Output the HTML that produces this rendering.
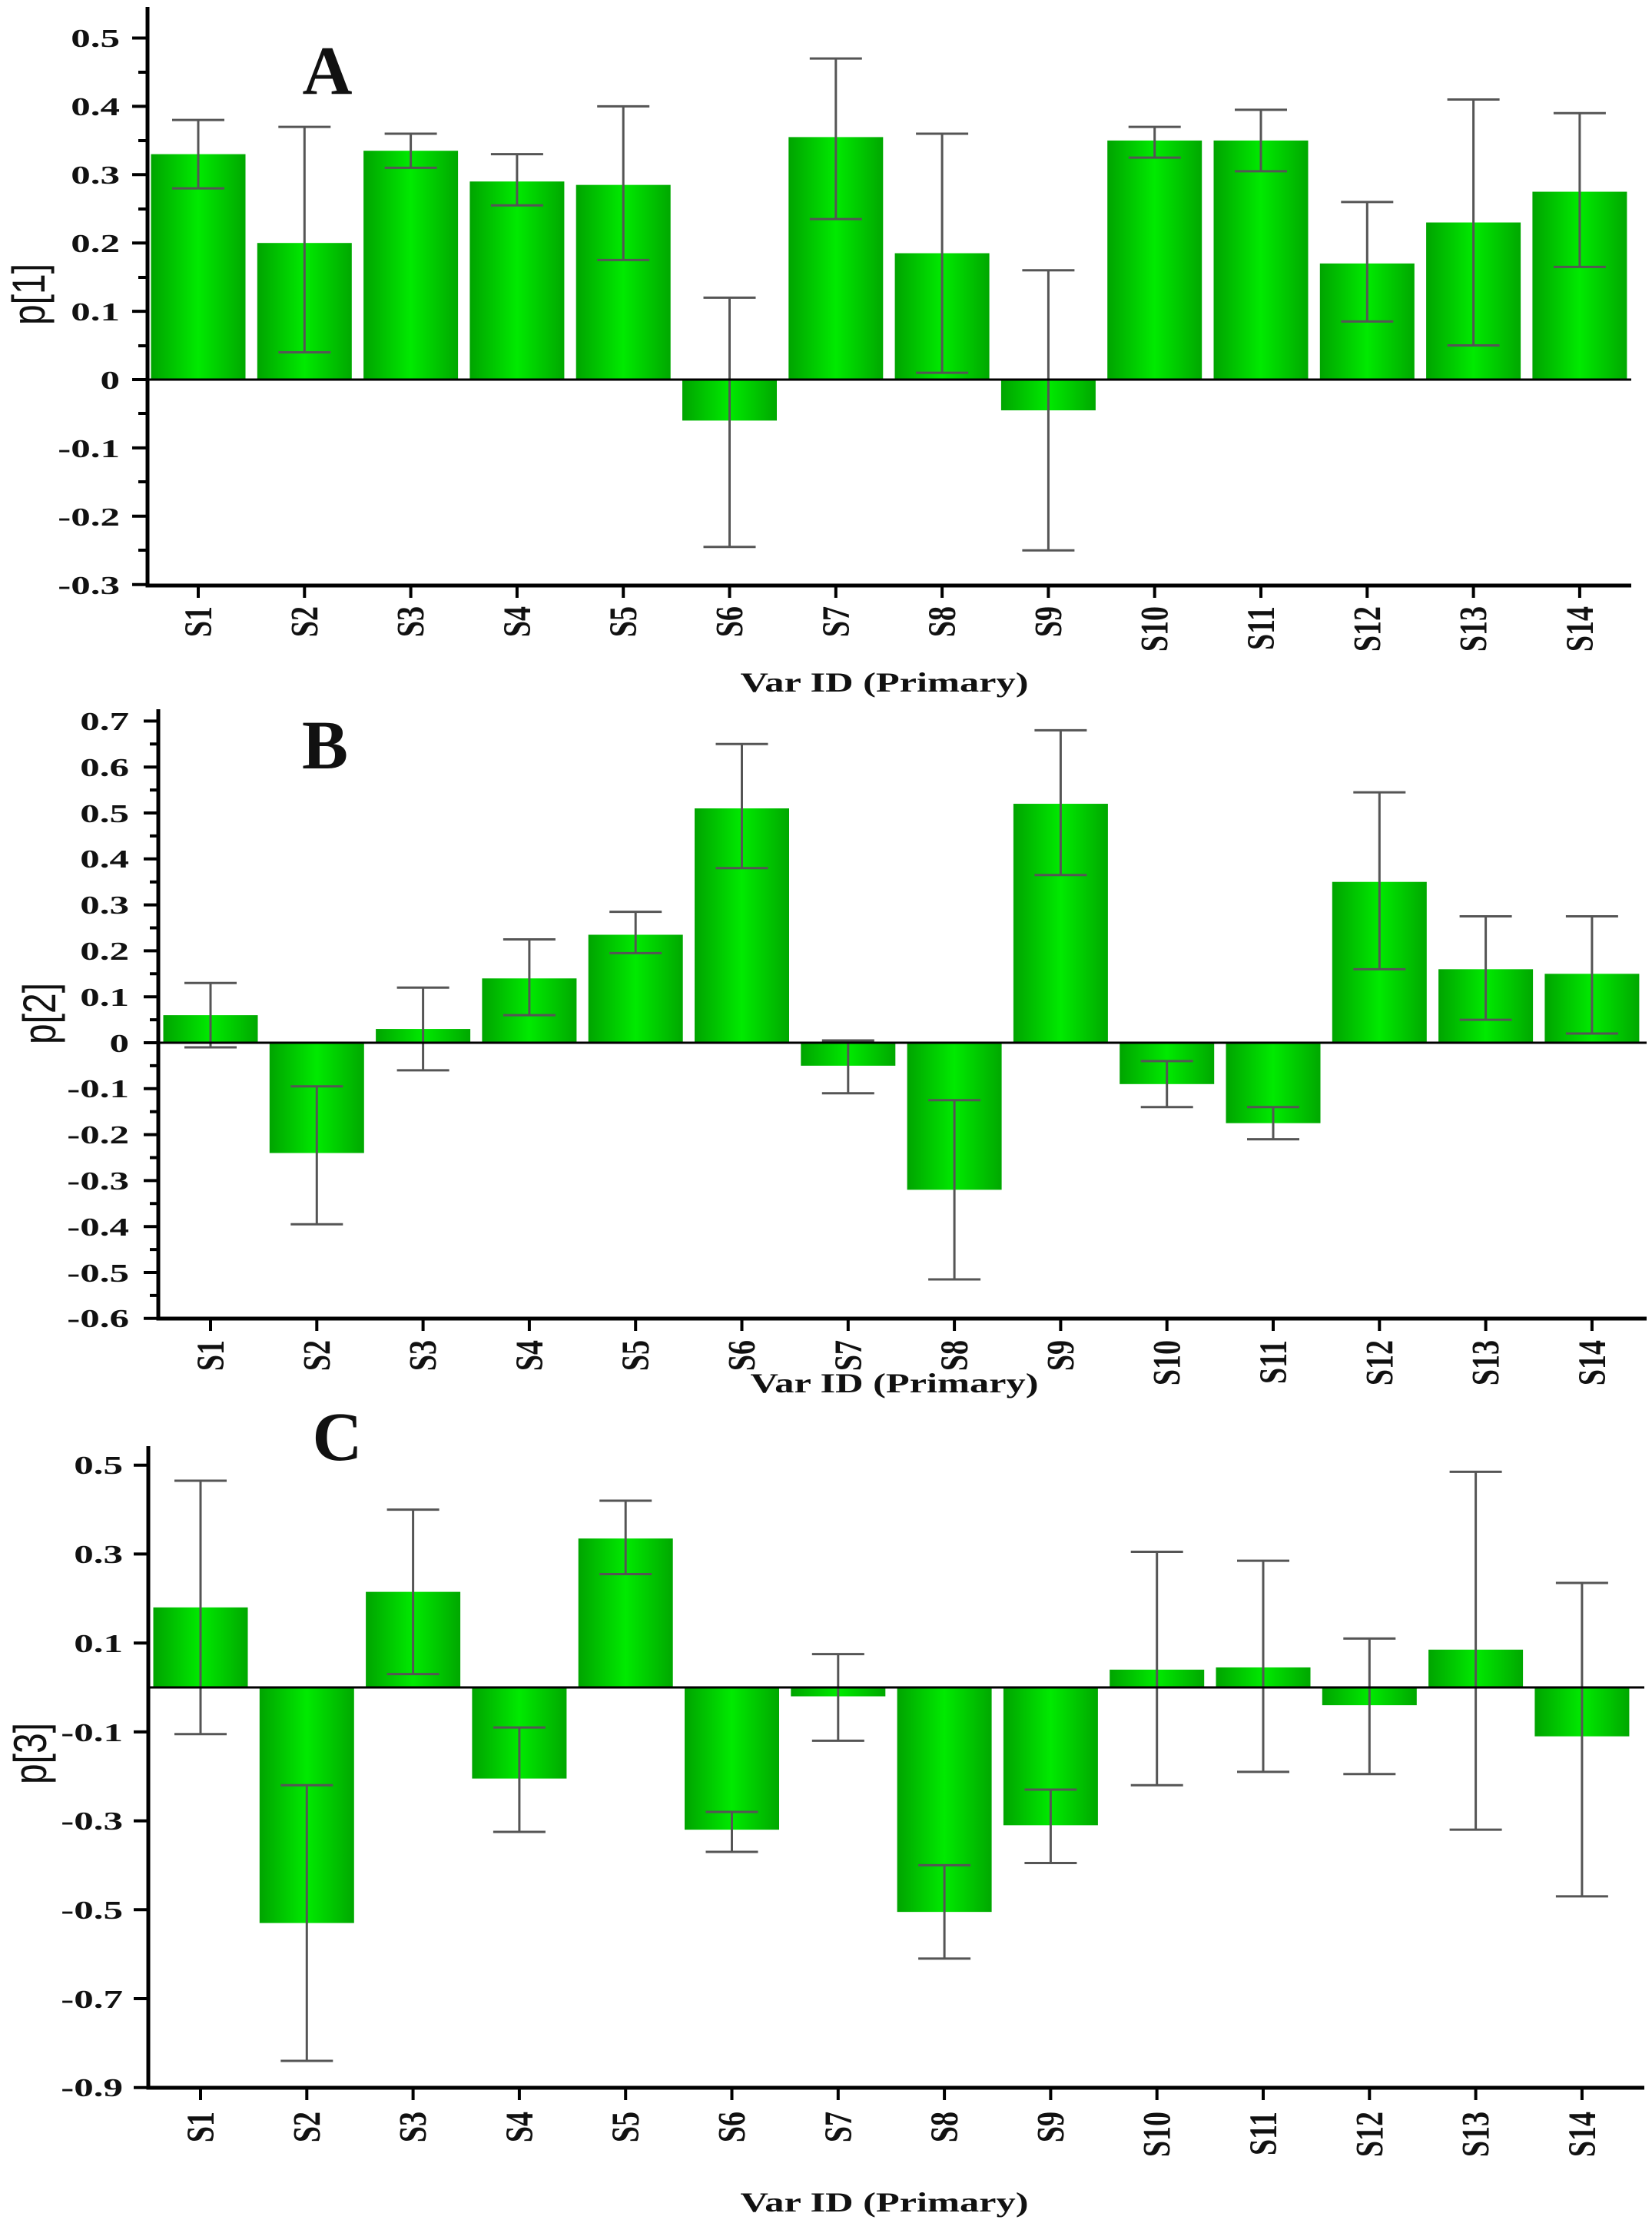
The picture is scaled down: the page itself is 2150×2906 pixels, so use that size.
<!DOCTYPE html>
<html><head><meta charset="utf-8"><style>
html,body{margin:0;padding:0;background:#fff}
svg{display:block}
.t{font-family:"Liberation Serif","Times New Roman",serif;font-weight:bold;fill:#111}
.s{font-family:"Liberation Sans",sans-serif;fill:#111}
</style></head><body>
<svg width="2150" height="2906" viewBox="0 0 2150 2906" xmlns="http://www.w3.org/2000/svg">
<defs>
<linearGradient id="g" x1="0" y1="0" x2="1" y2="0">
<stop offset="0" stop-color="#00a400"/><stop offset="0.5" stop-color="#00ea00"/><stop offset="1" stop-color="#00a800"/>
</linearGradient>
</defs>
<rect width="2150" height="2906" fill="#fff"/>

<!-- ================= PANEL A ================= -->
<g transform="translate(258,494) scale(1,-8.89)" fill="url(#g)">
<rect x="-61.5" y="0" width="123" height="33"/>
<rect x="76.8" y="0" width="123" height="20"/>
<rect x="215.1" y="0" width="123" height="33.5"/>
<rect x="353.4" y="0" width="123" height="29"/>
<rect x="491.7" y="0" width="123" height="28.5"/>
<rect x="630" y="-6" width="123" height="6"/>
<rect x="768.3" y="0" width="123" height="35.5"/>
<rect x="906.6" y="0" width="123" height="18.5"/>
<rect x="1044.9" y="-4.5" width="123" height="4.5"/>
<rect x="1183.2" y="0" width="123" height="35"/>
<rect x="1321.5" y="0" width="123" height="35"/>
<rect x="1459.8" y="0" width="123" height="17"/>
<rect x="1598.1" y="0" width="123" height="23"/>
<rect x="1736.4" y="0" width="123" height="27.5"/>
<path fill="none" stroke="#555" stroke-width="3" vector-effect="non-scaling-stroke" d="
M0 28V38M-34 28h68M-34 38h68
M138.3 4V37M104.3 4h68M104.3 37h68
M276.6 31V36M242.6 31h68M242.6 36h68
M414.9 25.5V33M380.9 25.5h68M380.9 33h68
M553.2 17.5V40M519.2 17.5h68M519.2 40h68
M691.5 -24.5V12M657.5 -24.5h68M657.5 12h68
M829.8 23.5V47M795.8 23.5h68M795.8 47h68
M968.1 1V36M934.1 1h68M934.1 36h68
M1106.4 -25V16M1072.4 -25h68M1072.4 16h68
M1244.7 32.5V37M1210.7 32.5h68M1210.7 37h68
M1383 30.5V39.5M1349 30.5h68M1349 39.5h68
M1521.3 8.5V26M1487.3 8.5h68M1487.3 26h68
M1659.6 5V41M1625.6 5h68M1625.6 41h68
M1797.9 16.5V39M1763.9 16.5h68M1763.9 39h68"/>
</g>
<path fill="none" stroke="#000" stroke-width="3" d="M192 494H2123"/>
<path fill="none" stroke="#000" stroke-width="5" d="M192 9V762H2123"/>
<path fill="none" stroke="#000" stroke-width="4" d="
M172 49.5h20M172 138.4h20M172 227.3h20M172 316.2h20M172 405.1h20M172 494h20M172 582.9h20M172 671.8h20M172 760.7h20
M180 94h12M180 183h12M180 272h12M180 361h12M180 450h12M180 538h12M180 627h12M180 716h12
M258 762v16M396.3 762v16M534.6 762v16M672.9 762v16M811.2 762v16M949.5 762v16M1087.8 762v16M1226.1 762v16M1364.4 762v16M1502.7 762v16M1641 762v16M1779.3 762v16M1917.6 762v16M2055.9 762v16"/>
<g class="t" font-size="34" text-anchor="end">
<text transform="translate(156,61) scale(1.5,1)">0.5</text>
<text transform="translate(156,150) scale(1.5,1)">0.4</text>
<text transform="translate(156,239) scale(1.5,1)">0.3</text>
<text transform="translate(156,328) scale(1.5,1)">0.2</text>
<text transform="translate(156,417) scale(1.5,1)">0.1</text>
<text transform="translate(156,506) scale(1.5,1)">0</text>
<text transform="translate(156,595) scale(1.5,1)">-0.1</text>
<text transform="translate(156,684) scale(1.5,1)">-0.2</text>
<text transform="translate(156,773) scale(1.5,1)">-0.3</text>
</g>
<g class="t" font-size="38" text-anchor="end">
<text transform="translate(275,789) rotate(-90) scale(1,1.35)">S1</text>
<text transform="translate(413.3,789) rotate(-90) scale(1,1.35)">S2</text>
<text transform="translate(551.6,789) rotate(-90) scale(1,1.35)">S3</text>
<text transform="translate(689.9,789) rotate(-90) scale(1,1.35)">S4</text>
<text transform="translate(828.2,789) rotate(-90) scale(1,1.35)">S5</text>
<text transform="translate(966.5,789) rotate(-90) scale(1,1.35)">S6</text>
<text transform="translate(1104.8,789) rotate(-90) scale(1,1.35)">S7</text>
<text transform="translate(1243.1,789) rotate(-90) scale(1,1.35)">S8</text>
<text transform="translate(1381.4,789) rotate(-90) scale(1,1.35)">S9</text>
<text transform="translate(1519.7,789) rotate(-90) scale(1,1.35)">S10</text>
<text transform="translate(1658,789) rotate(-90) scale(1,1.35)">S11</text>
<text transform="translate(1796.3,789) rotate(-90) scale(1,1.35)">S12</text>
<text transform="translate(1934.6,789) rotate(-90) scale(1,1.35)">S13</text>
<text transform="translate(2072.9,789) rotate(-90) scale(1,1.35)">S14</text>
</g>
<text class="t" font-size="36" text-anchor="middle" transform="translate(1151,900) scale(1.4,1)">Var ID (Primary)</text>
<text class="s" font-size="48" text-anchor="middle" transform="translate(58,383) rotate(-90) scale(1,1.25)">p[1]</text>
<text class="t" font-size="90" text-anchor="middle" x="426" y="122">A</text>

<!-- ================= PANEL B ================= -->
<g transform="translate(274,1357) scale(1,-5.98)" fill="url(#g)">
<rect x="-61.5" y="0" width="123" height="6"/>
<rect x="76.8" y="-24" width="123" height="24"/>
<rect x="215.1" y="0" width="123" height="3"/>
<rect x="353.4" y="0" width="123" height="14"/>
<rect x="491.7" y="0" width="123" height="23.5"/>
<rect x="630" y="0" width="123" height="51"/>
<rect x="768.3" y="-5" width="123" height="5"/>
<rect x="906.6" y="-32" width="123" height="32"/>
<rect x="1044.9" y="0" width="123" height="52"/>
<rect x="1183.2" y="-9" width="123" height="9"/>
<rect x="1321.5" y="-17.5" width="123" height="17.5"/>
<rect x="1459.8" y="0" width="123" height="35"/>
<rect x="1598.1" y="0" width="123" height="16"/>
<rect x="1736.4" y="0" width="123" height="15"/>
<path fill="none" stroke="#555" stroke-width="3" vector-effect="non-scaling-stroke" d="
M0 -1V13M-34 -1h68M-34 13h68
M138.3 -9.5V-39.5M104.3 -9.5h68M104.3 -39.5h68
M276.6 -6V12M242.6 -6h68M242.6 12h68
M414.9 6V22.5M380.9 6h68M380.9 22.5h68
M553.2 19.5V28.5M519.2 19.5h68M519.2 28.5h68
M691.5 38V65M657.5 38h68M657.5 65h68
M829.8 -11V0.5M795.8 -11h68M795.8 0.5h68
M968.1 -12.5V-51.5M934.1 -12.5h68M934.1 -51.5h68
M1106.4 36.5V68M1072.4 36.5h68M1072.4 68h68
M1244.7 -4V-14M1210.7 -4h68M1210.7 -14h68
M1383 -14V-21M1349 -14h68M1349 -21h68
M1521.3 16V54.5M1487.3 16h68M1487.3 54.5h68
M1659.6 5V27.5M1625.6 5h68M1625.6 27.5h68
M1797.9 2V27.5M1763.9 2h68M1763.9 27.5h68"/>
</g>
<path fill="none" stroke="#000" stroke-width="3" d="M206 1357H2143"/>
<path fill="none" stroke="#000" stroke-width="5" d="M206 923V1716H2143"/>
<path fill="none" stroke="#000" stroke-width="4" d="
M187 938.4h19M187 998.2h19M187 1058h19M187 1117.8h19M187 1177.6h19M187 1237.4h19M187 1297.2h19M187 1357h19M187 1416.8h19M187 1476.6h19M187 1536.4h19M187 1596.2h19M187 1656h19M187 1715.8h19
M195 968.3h11M195 1028.1h11M195 1087.9h11M195 1147.7h11M195 1207.5h11M195 1267.3h11M195 1327.1h11M195 1386.9h11M195 1446.7h11M195 1506.5h11M195 1566.3h11M195 1626.1h11M195 1685.9h11
M274 1716v16M412.3 1716v16M550.6 1716v16M688.9 1716v16M827.2 1716v16M965.5 1716v16M1103.8 1716v16M1242.1 1716v16M1380.4 1716v16M1518.7 1716v16M1657 1716v16M1795.3 1716v16M1933.6 1716v16M2071.9 1716v16"/>
<g class="t" font-size="34" text-anchor="end">
<text transform="translate(168,950) scale(1.5,1)">0.7</text>
<text transform="translate(168,1010) scale(1.5,1)">0.6</text>
<text transform="translate(168,1070) scale(1.5,1)">0.5</text>
<text transform="translate(168,1129) scale(1.5,1)">0.4</text>
<text transform="translate(168,1189) scale(1.5,1)">0.3</text>
<text transform="translate(168,1249) scale(1.5,1)">0.2</text>
<text transform="translate(168,1309) scale(1.5,1)">0.1</text>
<text transform="translate(168,1369) scale(1.5,1)">0</text>
<text transform="translate(168,1428) scale(1.5,1)">-0.1</text>
<text transform="translate(168,1488) scale(1.5,1)">-0.2</text>
<text transform="translate(168,1548) scale(1.5,1)">-0.3</text>
<text transform="translate(168,1608) scale(1.5,1)">-0.4</text>
<text transform="translate(168,1668) scale(1.5,1)">-0.5</text>
<text transform="translate(168,1727) scale(1.5,1)">-0.6</text>
</g>
<g class="t" font-size="38" text-anchor="end">
<text transform="translate(291,1744) rotate(-90) scale(1,1.35)">S1</text>
<text transform="translate(429.3,1744) rotate(-90) scale(1,1.35)">S2</text>
<text transform="translate(567.6,1744) rotate(-90) scale(1,1.35)">S3</text>
<text transform="translate(705.9,1744) rotate(-90) scale(1,1.35)">S4</text>
<text transform="translate(844.2,1744) rotate(-90) scale(1,1.35)">S5</text>
<text transform="translate(982.5,1744) rotate(-90) scale(1,1.35)">S6</text>
<text transform="translate(1120.8,1744) rotate(-90) scale(1,1.35)">S7</text>
<text transform="translate(1259.1,1744) rotate(-90) scale(1,1.35)">S8</text>
<text transform="translate(1397.4,1744) rotate(-90) scale(1,1.35)">S9</text>
<text transform="translate(1535.7,1744) rotate(-90) scale(1,1.35)">S10</text>
<text transform="translate(1674,1744) rotate(-90) scale(1,1.35)">S11</text>
<text transform="translate(1812.3,1744) rotate(-90) scale(1,1.35)">S12</text>
<text transform="translate(1950.6,1744) rotate(-90) scale(1,1.35)">S13</text>
<text transform="translate(2088.9,1744) rotate(-90) scale(1,1.35)">S14</text>
</g>
<text class="t" font-size="36" text-anchor="middle" transform="translate(1164,1812) scale(1.4,1)">Var ID (Primary)</text>
<text class="s" font-size="48" text-anchor="middle" transform="translate(72,1319) rotate(-90) scale(1,1.25)">p[2]</text>
<text class="t" font-size="90" text-anchor="middle" x="423" y="1000">B</text>

<!-- ================= PANEL C ================= -->
<g transform="translate(261,2196) scale(1,-5.785)" fill="url(#g)">
<rect x="-61.5" y="0" width="123" height="18"/>
<rect x="76.8" y="-53" width="123" height="53"/>
<rect x="215.1" y="0" width="123" height="21.5"/>
<rect x="353.4" y="-20.5" width="123" height="20.5"/>
<rect x="491.7" y="0" width="123" height="33.5"/>
<rect x="630" y="-32" width="123" height="32"/>
<rect x="768.3" y="-2" width="123" height="2"/>
<rect x="906.6" y="-50.5" width="123" height="50.5"/>
<rect x="1044.9" y="-31" width="123" height="31"/>
<rect x="1183.2" y="0" width="123" height="4"/>
<rect x="1321.5" y="0" width="123" height="4.5"/>
<rect x="1459.8" y="-4" width="123" height="4"/>
<rect x="1598.1" y="0" width="123" height="8.5"/>
<rect x="1736.4" y="-11" width="123" height="11"/>
<path fill="none" stroke="#555" stroke-width="3" vector-effect="non-scaling-stroke" d="
M0 -10.5V46.5M-34 -10.5h68M-34 46.5h68
M138.3 -22V-84M104.3 -22h68M104.3 -84h68
M276.6 3V40M242.6 3h68M242.6 40h68
M414.9 -9V-32.5M380.9 -9h68M380.9 -32.5h68
M553.2 25.5V42M519.2 25.5h68M519.2 42h68
M691.5 -28V-37M657.5 -28h68M657.5 -37h68
M829.8 -12V7.5M795.8 -12h68M795.8 7.5h68
M968.1 -40V-61M934.1 -40h68M934.1 -61h68
M1106.4 -23V-39.5M1072.4 -23h68M1072.4 -39.5h68
M1244.7 -22V30.5M1210.7 -22h68M1210.7 30.5h68
M1383 -19V28.5M1349 -19h68M1349 28.5h68
M1521.3 -19.5V11M1487.3 -19.5h68M1487.3 11h68
M1659.6 -32V48.5M1625.6 -32h68M1625.6 48.5h68
M1797.9 -47V23.5M1763.9 -47h68M1763.9 23.5h68"/>
</g>
<path fill="none" stroke="#000" stroke-width="3" d="M193 2196H2140"/>
<path fill="none" stroke="#000" stroke-width="5" d="M193 1882V2717H2140"/>
<path fill="none" stroke="#000" stroke-width="4" d="
M174 1906.8h19M174 2022.4h19M174 2138.2h19M174 2253.9h19M174 2369.6h19M174 2485.3h19M174 2601h19M174 2716.7h19
M261 2717v16M399.3 2717v16M537.6 2717v16M675.9 2717v16M814.2 2717v16M952.5 2717v16M1090.8 2717v16M1229.1 2717v16M1367.4 2717v16M1505.7 2717v16M1644 2717v16M1782.3 2717v16M1920.6 2717v16M2058.9 2717v16"/>
<g class="t" font-size="34" text-anchor="end">
<text transform="translate(160,1918) scale(1.5,1)">0.5</text>
<text transform="translate(160,2034) scale(1.5,1)">0.3</text>
<text transform="translate(160,2150) scale(1.5,1)">0.1</text>
<text transform="translate(160,2266) scale(1.5,1)">-0.1</text>
<text transform="translate(160,2381) scale(1.5,1)">-0.3</text>
<text transform="translate(160,2497) scale(1.5,1)">-0.5</text>
<text transform="translate(160,2613) scale(1.5,1)">-0.7</text>
<text transform="translate(160,2728) scale(1.5,1)">-0.9</text>
</g>
<g class="t" font-size="38" text-anchor="end">
<text transform="translate(278,2748) rotate(-90) scale(1,1.35)">S1</text>
<text transform="translate(416.3,2748) rotate(-90) scale(1,1.35)">S2</text>
<text transform="translate(554.6,2748) rotate(-90) scale(1,1.35)">S3</text>
<text transform="translate(692.9,2748) rotate(-90) scale(1,1.35)">S4</text>
<text transform="translate(831.2,2748) rotate(-90) scale(1,1.35)">S5</text>
<text transform="translate(969.5,2748) rotate(-90) scale(1,1.35)">S6</text>
<text transform="translate(1107.8,2748) rotate(-90) scale(1,1.35)">S7</text>
<text transform="translate(1246.1,2748) rotate(-90) scale(1,1.35)">S8</text>
<text transform="translate(1384.4,2748) rotate(-90) scale(1,1.35)">S9</text>
<text transform="translate(1522.7,2748) rotate(-90) scale(1,1.35)">S10</text>
<text transform="translate(1661,2748) rotate(-90) scale(1,1.35)">S11</text>
<text transform="translate(1799.3,2748) rotate(-90) scale(1,1.35)">S12</text>
<text transform="translate(1937.6,2748) rotate(-90) scale(1,1.35)">S13</text>
<text transform="translate(2075.9,2748) rotate(-90) scale(1,1.35)">S14</text>
</g>
<text class="t" font-size="36" text-anchor="middle" transform="translate(1151,2878) scale(1.4,1)">Var ID (Primary)</text>
<text class="s" font-size="48" text-anchor="middle" transform="translate(60,2282) rotate(-90) scale(1,1.25)">p[3]</text>
<text class="t" font-size="90" text-anchor="middle" x="439" y="1900">C</text>
</svg>
</body></html>
